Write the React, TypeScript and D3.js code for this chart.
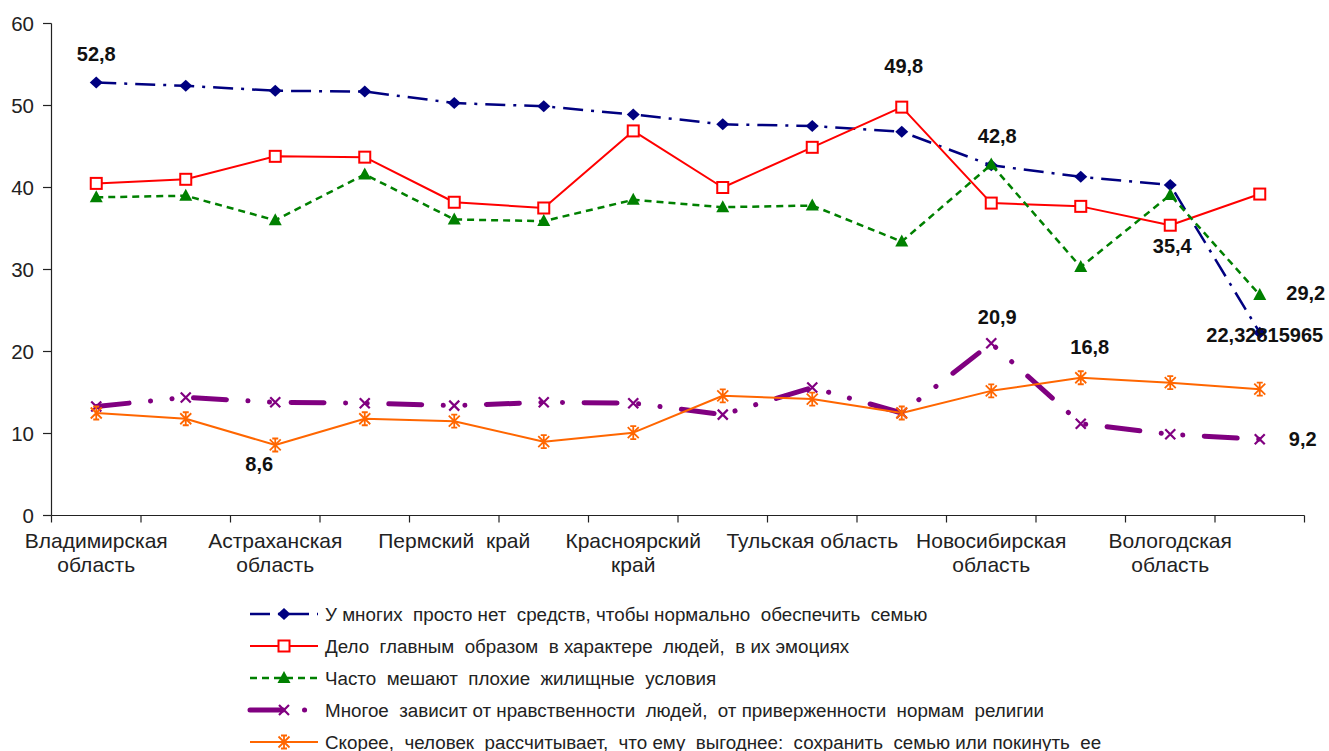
import React from "react";
import * as d3 from "d3";

const categories = [
  "Владимирская область", "", "Астраханская область", "", "Пермский край", "",
  "Красноярский край", "", "Тульская область", "", "Новосибирская область", "",
  "Вологодская область", "",
];
const tickLines: string[][] = [
  ["Владимирская", "область"], [], ["Астраханская", "область"], [], ["Пермский  край"], [],
  ["Красноярский", "край"], [], ["Тульская область"], [], ["Новосибирская", "область"], [],
  ["Вологодская", "область"], [],
];

const seriesNames = [
  "У многих  просто нет  средств, чтобы нормально  обеспечить  семью",
  "Дело  главным  образом  в характере  людей,  в их эмоциях",
  "Часто  мешают  плохие  жилищные  условия",
  "Многое  зависит от нравственности  людей,  от приверженности  нормам  религии",
  "Скорее,  человек  рассчитывает,  что ему  выгоднее:  сохранить  семью или покинуть  ее",
];

const noMoney = [52.8, 52.4, 51.8, 51.7, 50.3, 49.9, 48.9, 47.7, 47.5, 46.8, 42.7, 41.3, 40.3, 22.3];
const character = [40.5, 41.0, 43.8, 43.7, 38.2, 37.5, 46.9, 40.0, 44.9, 49.8, 38.1, 37.7, 35.4, 39.2];
const housing = [38.8, 39.0, 36.0, 41.6, 36.1, 35.9, 38.5, 37.6, 37.8, 33.4, 42.8, 30.3, 39.1, 26.9];
const morality = [13.3, 14.4, 13.8, 13.7, 13.4, 13.8, 13.7, 12.3, 15.6, 12.5, 21.0, 11.2, 9.9, 9.3];
const benefit = [12.5, 11.8, 8.6, 11.8, 11.5, 9.0, 10.1, 14.6, 14.2, 12.5, 15.2, 16.8, 16.2, 15.4];

const yTicks = [0, 10, 20, 30, 40, 50, 60];

// data labels: series index, point index, text
const labelSeries = [0, 1, 2, 1, 2, 0, 3, 4, 4, 3];
const labelPoints = [0, 9, 10, 12, 13, 13, 10, 11, 2, 13];
const labelTexts = ["52,8", "49,8", "42,8", "35,4", "29,2", "22,32815965", "20,9", "16,8", "8,6", "9,2"];
const labelOffsets: [number, number][] = [
  [0, -22], [2, -34], [6, -22], [2, 28], [46, 5], [5, 9], [6, -19], [9, -24], [-16, 26], [43, 7],
];

const allSeries = [noMoney, character, housing, morality, benefit];

const styles = [
  { color: "#000080", width: 2.5, dash: "20 8 3 8", cap: "butt", marker: "diamond" },
  { color: "#FF0000", width: 2, dash: "", cap: "butt", marker: "square" },
  { color: "#008000", width: 2.5, dash: "7 5", cap: "butt", marker: "triangle" },
  { color: "#800080", width: 5, dash: "33 21.5 0.1 21.5 0.1 21.5", cap: "round", marker: "x" },
  { color: "#FF6600", width: 2, dash: "", cap: "butt", marker: "star" },
];

const FONT = "Arial, 'Liberation Sans', sans-serif";

function Marker({ type, x, y, color }: { type: string; x: number; y: number; color: string }) {
  if (type === "diamond") {
    return <path d={`M${x},${y - 6}L${x + 6.5},${y}L${x},${y + 6}L${x - 6.5},${y}Z`} fill={color} />;
  }
  if (type === "square") {
    return <rect x={x - 5.5} y={y - 5.5} width={11} height={11} fill="#fff" stroke={color} strokeWidth={2} />;
  }
  if (type === "triangle") {
    return <path d={`M${x},${y - 7}L${x + 6.5},${y + 5}L${x - 6.5},${y + 5}Z`} fill={color} />;
  }
  if (type === "x") {
    const s = 5;
    return (
      <path d={`M${x - s},${y - s}L${x + s},${y + s}M${x - s},${y + s}L${x + s},${y - s}`}
        stroke={color} strokeWidth={2.2} fill="none" />
    );
  }
  const s = 5.5;
  return (
    <path
      d={`M${x - s},${y - s}L${x + s},${y + s}M${x - s},${y + s}L${x + s},${y - s}M${x},${y - s - 1}L${x},${y + s + 1}M${x - 3},${y - s - 1}L${x + 3},${y - s - 1}M${x - 3},${y + s + 1}L${x + 3},${y + s + 1}`}
      stroke={color} strokeWidth={1.8} fill="none" />
  );
}

export default function App() {
  const W = 1329, H = 751;
  const x = d3.scaleBand<number>().domain(d3.range(categories.length)).range([51.5, 1304.5]).padding(0);
  const y = d3.scaleLinear().domain([0, 60]).range([515.5, 23.5]);
  const cx = (i: number) => (x(i) as number) + x.bandwidth() / 2;
  const line = d3.line<number>().x((_, i) => cx(i)).y((v) => y(v));

  const legendY = [614, 646, 678, 710, 742];

  return (
    <svg width={W} height={H} style={{ position: "absolute", left: 0, top: 0, display: "block", background: "#fff" }}
      fontFamily={FONT}>
      {/* axes */}
      <line x1={51.5} x2={51.5} y1={y(60)} y2={y(0)} stroke="#222" strokeWidth={1.2} />
      <line x1={51.5} x2={1304.5} y1={y(0)} y2={y(0)} stroke="#222" strokeWidth={1.2} />
      {yTicks.map((t) => (
        <g key={t}>
          <line x1={43} x2={51.5} y1={y(t)} y2={y(t)} stroke="#222" strokeWidth={1.2} />
          <text x={34} y={y(t) + 7} textAnchor="end" fontSize={20.5} fill="#222">{t}</text>
        </g>
      ))}
      {d3.range(categories.length + 1).map((i) => {
        const xx = 51.5 + i * x.bandwidth();
        return <line key={i} x1={xx} x2={xx} y1={y(0)} y2={y(0) + 7} stroke="#222" strokeWidth={1.2} />;
      })}
      {tickLines.map((lines, i) =>
        lines.map((ln, k) => (
          <text key={`${i}-${k}`} x={cx(i)} y={548 + k * 24} textAnchor="middle" fontSize={21} fill="#222"
            style={{ whiteSpace: "pre" }}>{ln}</text>
        ))
      )}

      {/* series */}
      {allSeries.map((vals, s) => (
        <g key={s}>
          <path d={line(vals) || ""} fill="none" stroke={styles[s].color} strokeWidth={styles[s].width}
            strokeDasharray={styles[s].dash || undefined} strokeLinecap={styles[s].cap as any} strokeLinejoin="round" />
        </g>
      ))}
      {allSeries.map((vals, s) => (
        <g key={`m${s}`}>
          {vals.map((v, i) => <Marker key={i} type={styles[s].marker} x={cx(i)} y={y(v)} color={styles[s].color} />)}
        </g>
      ))}

      {/* data labels */}
      {labelTexts.map((t, k) => {
        const s = labelSeries[k], p = labelPoints[k];
        return (
          <text key={k} x={cx(p) + labelOffsets[k][0]} y={y(allSeries[s][p]) + labelOffsets[k][1]}
            textAnchor="middle" fontSize={20} fontWeight="bold" fill="#111">{t}</text>
        );
      })}

      {/* legend */}
      {seriesNames.map((name, s) => (
        <g key={name}>
          <line x1={250} x2={318} y1={legendY[s]} y2={legendY[s]} stroke={styles[s].color} strokeWidth={styles[s].width}
            strokeDasharray={styles[s].dash || undefined} strokeLinecap={styles[s].cap as any} />
          <Marker type={styles[s].marker} x={284} y={legendY[s]} color={styles[s].color} />
          <text x={325} y={legendY[s] + 6.5} fontSize={18.8} fill="#222" style={{ whiteSpace: "pre" }}>{name}</text>
        </g>
      ))}
    </svg>
  );
}
